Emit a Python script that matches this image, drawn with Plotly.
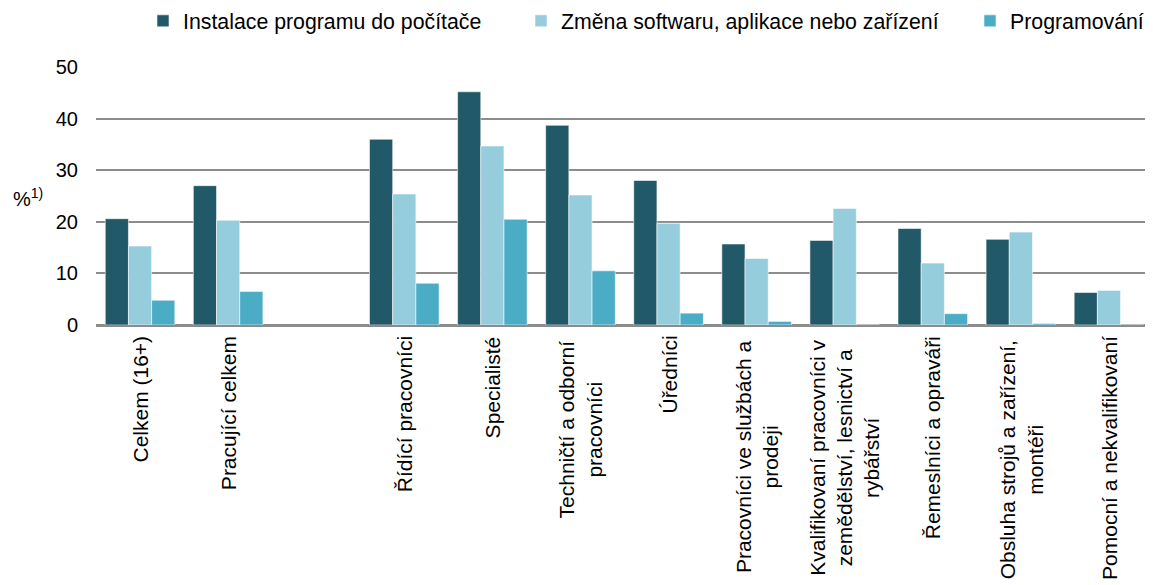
import plotly.graph_objects as go

categories = [
    "Celkem (16+)",
    "Pracující celkem",
    " ",
    "Řídící pracovníci",
    "Specialisté",
    "Techničtí a odborní<br>pracovníci",
    "Úředníci",
    "Pracovníci ve službách a<br>prodeji",
    "Kvalifikovaní pracovníci v<br>zemědělství, lesnictví a<br>rybářství",
    "Řemeslníci a opraváři",
    "Obsluha strojů a zařízení,<br>montéři",
    "Pomocní a nekvalifikovaní",
]

series_names = [
    "Instalace programu do počítače",
    "Změna softwaru, aplikace nebo zařízení",
    "Programování",
]

instalace = [20.6, 27.0, None, 36.0, 45.2, 38.7, 28.0, 15.7, 16.4, 18.7, 16.6, 6.3]
zmena = [15.3, 20.3, None, 25.4, 34.7, 25.2, 19.7, 12.9, 22.6, 12.0, 18.0, 6.7]
programovani = [4.8, 6.5, None, 8.1, 20.5, 10.5, 2.3, 0.7, 0.0, 2.2, 0.3, 0.0]

y_ticks = [0, 10, 20, 30, 40, 50]
colors = ["#215968", "#95CDDD", "#4BACC6"]
legend_ids = ["legend", "legend2", "legend3"]

FONT = "Liberation Sans, Arial, sans-serif"
# the page adds an 8px body margin, so the figure is 8px smaller each way
W, H = 1145, 577
M_L, M_R, M_T, M_B = 88, 0, 59, 260
PLOT_W = W - M_L - M_R
PLOT_H = H - M_T - M_B
legend_x_px = [135, 513, 962]

fig = go.Figure()
for name, vals, col, lg in zip(series_names, [instalace, zmena, programovani], colors, legend_ids):
    fig.add_trace(go.Bar(
        name=name, x=categories, y=vals, legend=lg,
        marker=dict(color=col, line=dict(color="rgba(255,255,255,0.7)", width=0.8)),
    ))

for c in categories:
    if c.strip() == "":
        continue
    n_lines = c.count("<br>") + 1
    fig.add_annotation(
        x=c, xref="x", y=0, yref="paper", yanchor="top", xanchor="center",
        yshift=-9 - (4 if n_lines > 1 else 0), text=c, textangle=-90,
        showarrow=False, align="center",
        font=dict(family=FONT, size=21, color="#000000"),
    )

fig.add_annotation(
    x=(3 - M_L) / PLOT_W, xref="paper", y=(317 - 189) / PLOT_H, yref="paper",
    xanchor="left", yanchor="middle",
    text="%<sup>1)</sup>", showarrow=False,
    font=dict(family=FONT, size=20, color="#000000"),
)

legend_common = dict(
    orientation="h", xref="container", yref="paper",
    xanchor="left", y=1 + (M_T - 13) / PLOT_H, yanchor="middle",
    font=dict(family=FONT, size=21.3, color="#000000"),
    bgcolor="rgba(0,0,0,0)",
)

fig.update_layout(
    width=W, height=H,
    margin=dict(l=M_L, r=M_R, t=M_T, b=M_B, autoexpand=False),
    paper_bgcolor="white", plot_bgcolor="white",
    barmode="group", bargap=0.21, bargroupgap=0,
    font=dict(family=FONT, size=20, color="#000000"),
    showlegend=True,
    legend=dict(x=legend_x_px[0] / W, **legend_common),
    legend2=dict(x=legend_x_px[1] / W, **legend_common),
    legend3=dict(x=legend_x_px[2] / W, **legend_common),
    xaxis=dict(
        type="category", categoryorder="array", categoryarray=categories,
        showticklabels=False, showgrid=False, zeroline=False, showline=False,
        range=[-0.5, len(categories) - 0.5],
    ),
    yaxis=dict(
        range=[0, 50], tickvals=y_ticks, ticktext=[str(v) for v in y_ticks],
        showgrid=True, gridcolor="#8c8c8c", gridwidth=2,
        zeroline=True, zerolinecolor="#8c8c8c", zerolinewidth=3,
        showline=False, ticks="", ticklabelstandoff=17,
        tickfont=dict(family=FONT, size=20, color="#000000"),
    ),
)

fig.write_html("out.html")
